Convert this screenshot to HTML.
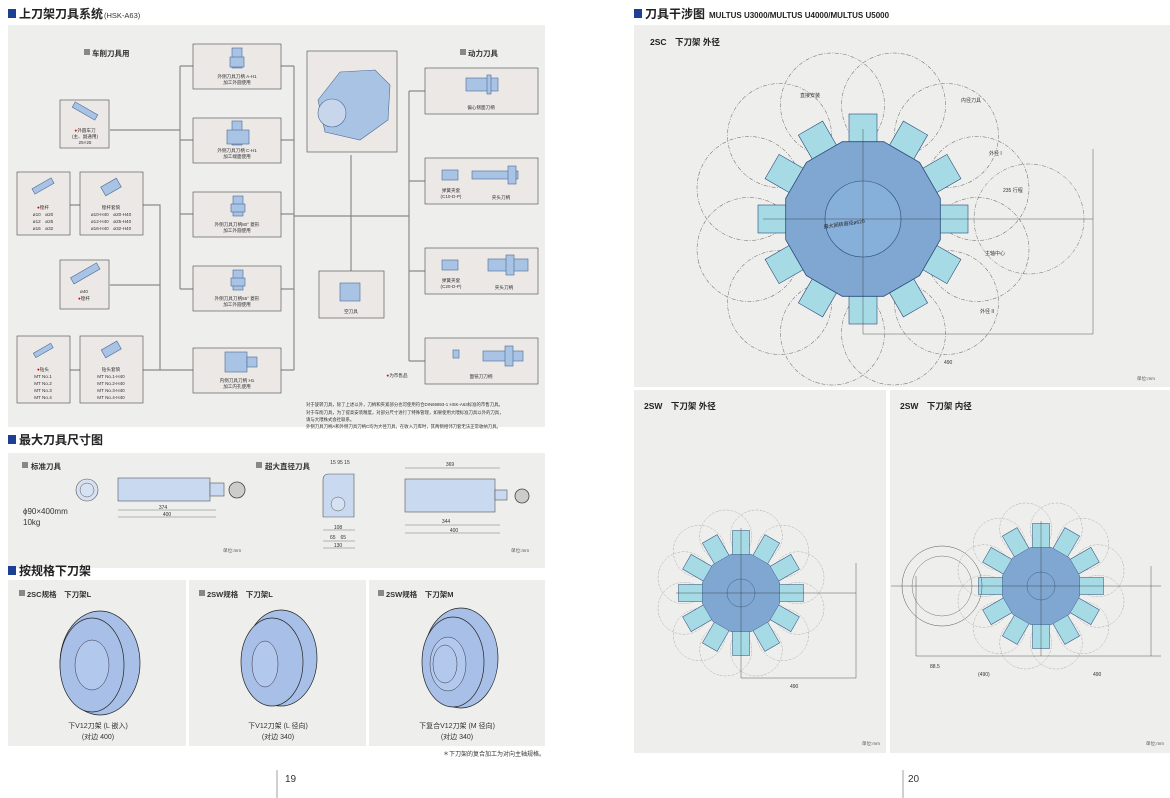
<!DOCTYPE html>
<html><head><meta charset="utf-8"><style>
html,body{margin:0;padding:0;background:#fff;}
svg{display:block;font-family:"Liberation Sans","Noto Sans CJK SC",sans-serif;}
</style></head><body>
<svg width="1170" height="798" viewBox="0 0 1170 798" xmlns="http://www.w3.org/2000/svg">
<defs>
<g id="dodec">
<polygon points="77.3,20.7 56.6,56.6 20.7,77.3 -20.7,77.3 -56.6,56.6 -77.3,20.7 -77.3,-20.7 -56.6,-56.6 -20.7,-77.3 20.7,-77.3 56.6,-56.6 77.3,-20.7" fill="#7fa7d1" stroke="#2a4a78" stroke-width="0.8"/>
</g>
<g id="tool"><rect x="55" y="-14" width="50" height="28" fill="#a6dbe6" stroke="#2a4a78" stroke-width="0.6"/></g>
<g id="tool2"><rect x="55" y="-17" width="70" height="34" fill="#a6dbe6" stroke="#2a4a78" stroke-width="1"/></g>
<g id="dc"><circle cx="118" cy="0" r="52" fill="none" stroke="#666" stroke-width="0.5" stroke-dasharray="4 1.5 1 1.5"/></g>
<g id="tools12">
<use href="#tool"/><use href="#tool" transform="rotate(30)"/><use href="#tool" transform="rotate(60)"/><use href="#tool" transform="rotate(90)"/><use href="#tool" transform="rotate(120)"/><use href="#tool" transform="rotate(150)"/><use href="#tool" transform="rotate(180)"/><use href="#tool" transform="rotate(210)"/><use href="#tool" transform="rotate(240)"/><use href="#tool" transform="rotate(270)"/><use href="#tool" transform="rotate(300)"/><use href="#tool" transform="rotate(330)"/>
</g>
<g id="tools12b">
<use href="#tool2"/><use href="#tool2" transform="rotate(30)"/><use href="#tool2" transform="rotate(60)"/><use href="#tool2" transform="rotate(90)"/><use href="#tool2" transform="rotate(120)"/><use href="#tool2" transform="rotate(150)"/><use href="#tool2" transform="rotate(180)"/><use href="#tool2" transform="rotate(210)"/><use href="#tool2" transform="rotate(240)"/><use href="#tool2" transform="rotate(270)"/><use href="#tool2" transform="rotate(300)"/><use href="#tool2" transform="rotate(330)"/>
</g>
<g id="circs">
<use href="#dc" transform="rotate(15)"/><use href="#dc" transform="rotate(45)"/><use href="#dc" transform="rotate(75)"/><use href="#dc" transform="rotate(105)"/><use href="#dc" transform="rotate(135)"/><use href="#dc" transform="rotate(165)"/><use href="#dc" transform="rotate(195)"/><use href="#dc" transform="rotate(225)"/><use href="#dc" transform="rotate(255)"/><use href="#dc" transform="rotate(285)"/><use href="#dc" transform="rotate(315)"/><use href="#dc" transform="rotate(345)"/>
</g>
</defs>

<!-- ============ LEFT PAGE ============ -->
<rect x="8" y="9" width="8" height="9" fill="#1d3f94"/>
<text x="19" y="18" font-size="12" font-weight="bold" fill="#222">上刀架刀具系统</text>
<text x="104" y="18" font-size="7.5" fill="#333">(HSK-A63)</text>
<rect x="8" y="25" width="537" height="402" fill="#eeeeec"/>

<g stroke="#8a8a8a" stroke-width="1.2" fill="none">
<path d="M110 130 H180 M180 66 V289 M180 66 H193 M180 140 H193 M180 214 H193 M180 289 H193"/>
<path d="M70 205 H80 M143 205 H160 V370 M110 285 H160 M70 370 H80 M143 370 H193"/>
<path d="M281 66 H294 M281 140 H294 M281 214 H294 M281 289 H294 M281 370 H294 M294 66 V370 M294 216 H409"/>
<path d="M351 155 V271"/>
<path d="M409 91 V361 M409 91 H425 M409 181 H425 M409 271 H425 M409 361 H425"/>
</g>

<g fill="#ebe8e5" stroke="#4a4a4a" stroke-width="0.6">
<rect x="60" y="100" width="49" height="48"/>
<rect x="17" y="172" width="53" height="63"/>
<rect x="80" y="172" width="63" height="63"/>
<rect x="60" y="260" width="49" height="49"/>
<rect x="17" y="336" width="53" height="67"/>
<rect x="80" y="336" width="63" height="67"/>
<rect x="193" y="44" width="88" height="45"/>
<rect x="193" y="118" width="88" height="45"/>
<rect x="193" y="192" width="88" height="45"/>
<rect x="193" y="266" width="88" height="45"/>
<rect x="193" y="348" width="88" height="45"/>
<rect x="307" y="51" width="90" height="101"/>
<rect x="319" y="271" width="65" height="47"/>
<rect x="425" y="68" width="113" height="46"/>
<rect x="425" y="158" width="113" height="46"/>
<rect x="425" y="248" width="113" height="46"/>
<rect x="425" y="338" width="113" height="46"/>
</g>
<g fill="#a9c3e4" stroke="#4a6a98" stroke-width="0.6">
<rect x="72" y="108" width="26" height="6" transform="rotate(30 85 111)"/>
<rect x="32" y="183" width="22" height="6" transform="rotate(-30 43 186)"/>
<rect x="102" y="182" width="18" height="10" transform="rotate(-30 111 187)"/>
<rect x="70" y="270" width="30" height="7" transform="rotate(-30 85 273)"/>
<rect x="33" y="348" width="20" height="5" transform="rotate(-30 43 350)"/>
<rect x="102" y="345" width="18" height="9" transform="rotate(-30 111 349)"/>
<rect x="232" y="48" width="10" height="20"/><rect x="230" y="57" width="14" height="10"/>
<rect x="232" y="121" width="10" height="24"/><rect x="227" y="130" width="22" height="14"/>
<rect x="233" y="196" width="10" height="20"/><rect x="231" y="204" width="14" height="8"/>
<rect x="233" y="270" width="10" height="20"/><rect x="231" y="278" width="14" height="8"/>
<rect x="225" y="352" width="22" height="20"/><rect x="247" y="357" width="10" height="10"/>
<rect x="340" y="283" width="20" height="18"/>
<rect x="466" y="78" width="32" height="13"/><rect x="487" y="75" width="4" height="19"/>
<rect x="442" y="170" width="16" height="10"/><rect x="472" y="171" width="46" height="8"/><rect x="508" y="166" width="8" height="18"/>
<rect x="442" y="260" width="16" height="10"/><rect x="488" y="259" width="40" height="12"/><rect x="506" y="255" width="8" height="20"/>
<rect x="453" y="350" width="6" height="8"/><rect x="483" y="351" width="40" height="10"/><rect x="505" y="346" width="8" height="20"/>
<path d="M318 100 L340 72 L375 70 L390 85 L388 120 L360 140 L325 132 Z"/>
</g>
<circle cx="332" cy="113" r="14" fill="#c7d6ea" stroke="#4a6a98" stroke-width="0.6"/>

<g font-size="4.6" fill="#333" text-anchor="middle">
<text x="85" y="132"><tspan fill="#e00000">●</tspan>外圆车刀</text><text x="85" y="138">(主、副通用)</text><text x="85" y="144">25×25</text>
<text x="43" y="209"><tspan fill="#e00000">●</tspan>镗杆</text><text x="43" y="216">ø10　ø20</text><text x="43" y="223">ø12　ø25</text><text x="43" y="230">ø16　ø32</text>
<text x="111" y="209">镗杆套筒</text><text x="111" y="216">ø10-H40　ø20-H40</text><text x="111" y="223">ø12-H40　ø25-H40</text><text x="111" y="230">ø16-H40　ø32-H40</text>
<text x="84" y="293">ø40</text><text x="84" y="300"><tspan fill="#e00000">●</tspan>镗杆</text>
<text x="43" y="371"><tspan fill="#e00000">●</tspan>钻头</text><text x="43" y="378">MT No.1</text><text x="43" y="385">MT No.2</text><text x="43" y="392">MT No.3</text><text x="43" y="399">MT No.4</text>
<text x="111" y="371">钻头套筒</text><text x="111" y="378">MT No.1-H40</text><text x="111" y="385">MT No.2-H40</text><text x="111" y="392">MT No.3-H40</text><text x="111" y="399">MT No.4-H40</text>
<text x="237" y="78">外侧刀具刀柄 A-H1</text><text x="237" y="84">加工外圆使用</text>
<text x="237" y="152">外侧刀具刀柄 C-H1</text><text x="237" y="158">加工端面使用</text>
<text x="237" y="226">外侧刀具刀柄80° 菱形</text><text x="237" y="232">加工外圆使用</text>
<text x="237" y="300">外侧刀具刀柄55° 菱形</text><text x="237" y="306">加工外圆使用</text>
<text x="237" y="382">内侧刀具刀柄 H1</text><text x="237" y="388">加工内孔使用</text>
<text x="351" y="313">空刀具</text>
<text x="481" y="109">偏心侧面刀柄</text>
<text x="451" y="192">弹簧夹套</text><text x="451" y="198">(C10-D-P)</text><text x="501" y="199">夹头刀柄</text>
<text x="451" y="282">弹簧夹套</text><text x="451" y="288">(C20-D-P)</text><text x="504" y="289">夹头刀柄</text>
<text x="481" y="378">面铣刀刀柄</text>
<text x="397" y="377"><tspan fill="#e00000">●</tspan>为市售品</text>
</g>
<g font-size="7.5" font-weight="bold" fill="#333">
<rect x="84" y="49" width="6" height="6" fill="#888"/><text x="92" y="56">车削刀具用</text>
<rect x="460" y="49" width="6" height="6" fill="#888"/><text x="468" y="56">动力刀具</text>
</g>
<g font-size="4.4" fill="#333">
<text x="306" y="406">对于旋转刀具，除了上述以外，刀柄和夹紧部分也可使用符合DIN69893-1 HSK-A63标准的市售刀具。</text>
<text x="306" y="414">对于车削刀具，为了提高安装精度，对部分尺寸进行了特殊管理，如果使用大隈标准刀具以外的刀具，</text>
<text x="306" y="421">请与大隈株式会社联系。</text>
<text x="306" y="428">外侧刀具刀柄A和外侧刀具刀柄C均为大径刀具，在收入刀库时，其两侧相邻刀套无法正常收纳刀具。</text>
</g>

<!-- section 2 -->
<rect x="8" y="435" width="8" height="9" fill="#1d3f94"/>
<text x="19" y="444" font-size="12" font-weight="bold" fill="#222">最大刀具尺寸图</text>
<rect x="8" y="453" width="537" height="115" fill="#eeeeec"/>
<rect x="22" y="462" width="6" height="6" fill="#888"/><text x="31" y="469" font-size="7.5" font-weight="bold" fill="#333">标准刀具</text>
<rect x="256" y="462" width="6" height="6" fill="#888"/><text x="265" y="469" font-size="7.5" font-weight="bold" fill="#333">超大直径刀具</text>
<circle cx="87" cy="490" r="11" fill="#d6e2f2" stroke="#555" stroke-width="0.6"/><circle cx="87" cy="490" r="7" fill="none" stroke="#555" stroke-width="0.5"/>
<text x="23" y="514" font-size="8" fill="#333">ϕ90×400mm</text><text x="23" y="525" font-size="8" fill="#333">10kg</text>
<rect x="118" y="478" width="92" height="23" fill="#c9d9f0" stroke="#555" stroke-width="0.6"/>
<rect x="210" y="483" width="14" height="13" fill="#c9d9f0" stroke="#555" stroke-width="0.6"/>
<circle cx="237" cy="490" r="8" fill="#ccc" stroke="#444" stroke-width="0.8"/>
<g stroke="#555" stroke-width="0.4"><path d="M118 510 H216 M118 517 H216"/></g>
<text x="163" y="509" font-size="5" fill="#333" text-anchor="middle">374</text><text x="167" y="516" font-size="5" fill="#333" text-anchor="middle">400</text>
<path d="M323 480 Q323 474 329 474 H354 V517 H323 Z" fill="#c9d9f0" stroke="#555" stroke-width="0.6"/>
<circle cx="338" cy="504" r="7" fill="#d6e2f2" stroke="#555" stroke-width="0.5"/>
<rect x="405" y="479" width="90" height="33" fill="#c9d9f0" stroke="#555" stroke-width="0.6"/>
<rect x="495" y="490" width="12" height="10" fill="#c9d9f0" stroke="#555" stroke-width="0.6"/>
<circle cx="522" cy="496" r="7" fill="#ccc" stroke="#444" stroke-width="0.8"/>
<g stroke="#555" stroke-width="0.4"><path d="M405 468 H500 M405 525 H500 M405 533 H500 M323 530 H355 M323 541 H355 M323 548 H355"/></g>
<g font-size="5" fill="#333" text-anchor="middle"><text x="450" y="466">369</text><text x="446" y="523">344</text><text x="454" y="532">400</text><text x="338" y="529">108</text><text x="338" y="539">65　65</text><text x="338" y="547">130</text><text x="340" y="464">15 95 15</text></g>
<text x="223" y="552" font-size="4.6" fill="#555">单位:mm</text><text x="511" y="552" font-size="4.6" fill="#555">单位:mm</text>

<!-- section 3 -->
<rect x="8" y="566" width="8" height="9" fill="#1d3f94"/>
<text x="19" y="575" font-size="12" font-weight="bold" fill="#222">按规格下刀架</text>
<rect x="8" y="580" width="178" height="166" fill="#eeeeec"/>
<rect x="189" y="580" width="177" height="166" fill="#eeeeec"/>
<rect x="369" y="580" width="176" height="166" fill="#eeeeec"/>
<g font-size="7.5" font-weight="bold" fill="#333">
<rect x="19" y="590" width="6" height="6" fill="#888"/><text x="27" y="597">2SC规格　下刀架L</text>
<rect x="199" y="590" width="6" height="6" fill="#888"/><text x="207" y="597">2SW规格　下刀架L</text>
<rect x="378" y="590" width="6" height="6" fill="#888"/><text x="386" y="597">2SW规格　下刀架M</text>
</g>
<g fill="#a8c0e8" stroke="#222" stroke-width="0.7">
<ellipse cx="100" cy="663" rx="40" ry="52"/><ellipse cx="92" cy="665" rx="32" ry="47"/>
<ellipse cx="281" cy="658" rx="36" ry="48"/><ellipse cx="272" cy="662" rx="31" ry="44"/>
<ellipse cx="461" cy="658" rx="37" ry="50"/><ellipse cx="453" cy="662" rx="31" ry="45"/>
</g>
<g fill="#b2c8ec" stroke="#334" stroke-width="0.5">
<ellipse cx="92" cy="665" rx="17" ry="25"/><ellipse cx="265" cy="664" rx="13" ry="23"/><ellipse cx="448" cy="664" rx="18" ry="27"/><ellipse cx="445" cy="664" rx="12" ry="19"/>
</g>
<g font-size="7" fill="#333" text-anchor="middle">
<text x="98" y="728">下V12刀架 (L 嵌入)</text><text x="98" y="739">(对边 400)</text>
<text x="278" y="728">下V12刀架 (L 径向)</text><text x="278" y="739">(对边 340)</text>
<text x="457" y="728">下复合V12刀架 (M 径向)</text><text x="457" y="739">(对边 340)</text>
</g>
<text x="545" y="756" font-size="6" fill="#333" text-anchor="end">＊下刀架的复合加工为对向主轴规格。</text>
<line x1="277" y1="770" x2="277" y2="798" stroke="#777" stroke-width="0.7"/>
<text x="285" y="782" font-size="10" fill="#333">19</text>

<!-- ============ RIGHT PAGE ============ -->
<rect x="634" y="9" width="8" height="9" fill="#1d3f94"/>
<text x="645" y="18" font-size="12" font-weight="bold" fill="#222">刀具干涉图</text>
<text x="709" y="18" font-size="8" font-weight="bold" fill="#222">MULTUS U3000/MULTUS U4000/MULTUS U5000</text>
<rect x="634" y="25" width="536" height="362" fill="#eeeeec"/>
<text x="650" y="45" font-size="8.5" font-weight="bold" fill="#222">2SC　下刀架 外径</text>

<g transform="translate(863 219)">
<use href="#circs"/>
<use href="#tools12"/>
<use href="#dodec"/>
<circle r="38" fill="#86afd9" stroke="#2a4a78" stroke-width="0.6"/>
<g stroke="#333" stroke-width="0.4"><path d="M-100 0 H230 M0 -90 V115 M0 115 H230 M230 -70 V115"/></g>
<text x="-40" y="4" font-size="5" fill="#222" transform="rotate(-8)">最大回转直径ø620</text>
</g>
<circle cx="1029" cy="219" r="55" fill="none" stroke="#666" stroke-width="0.5" stroke-dasharray="4 1.5 1 1.5"/>
<g font-size="5" fill="#333"><text x="944" y="364">490</text><text x="1003" y="192">235 行程</text><text x="961" y="102">内径刀具</text><text x="989" y="155">外径 I</text><text x="985" y="255">主轴中心</text><text x="980" y="313">外径 II</text><text x="800" y="97">直接安装</text></g>
<text x="1155" y="380" font-size="4.6" fill="#555" text-anchor="end">单位:mm</text>

<rect x="634" y="390" width="252" height="363" fill="#eeeeec"/>
<rect x="890" y="390" width="280" height="363" fill="#eeeeec"/>
<text x="644" y="409" font-size="8.5" font-weight="bold" fill="#222">2SW　下刀架 外径</text>
<text x="900" y="409" font-size="8.5" font-weight="bold" fill="#222">2SW　下刀架 内径</text>

<g transform="translate(741 593) scale(0.5)">
<use href="#circs"/><use href="#tools12b"/><use href="#dodec"/>
<circle r="28" fill="none" stroke="#2a4a78" stroke-width="0.8"/>
<g stroke="#333" stroke-width="0.8"><path d="M-130 0 H230 M0 -130 V170 M0 170 H230 M230 -60 V170"/></g>
</g>
<text x="790" y="688" font-size="5" fill="#333">490</text>
<text x="880" y="745" font-size="4.6" fill="#555" text-anchor="end">单位:mm</text>

<g transform="translate(1041 586) scale(0.5)">
<use href="#circs"/><use href="#tools12b"/><use href="#dodec"/>
<circle r="28" fill="none" stroke="#2a4a78" stroke-width="0.8"/>
<g stroke="#333" stroke-width="0.8"><path d="M-300 0 H240 M0 -130 V140 M-250 140 H240 M-250 -20 V140 M220 -40 V140"/></g>
</g>
<circle cx="942" cy="586" r="40" fill="none" stroke="#555" stroke-width="0.5"/>
<circle cx="942" cy="586" r="30" fill="none" stroke="#555" stroke-width="0.4"/>
<g font-size="5" fill="#333"><text x="930" y="668">88.5</text><text x="978" y="676">(490)</text><text x="1093" y="676">490</text></g>
<text x="1164" y="745" font-size="4.6" fill="#555" text-anchor="end">单位:mm</text>

<line x1="903" y1="770" x2="903" y2="798" stroke="#777" stroke-width="0.7"/>
<text x="908" y="782" font-size="10" fill="#333">20</text>
</svg>
</body></html>
